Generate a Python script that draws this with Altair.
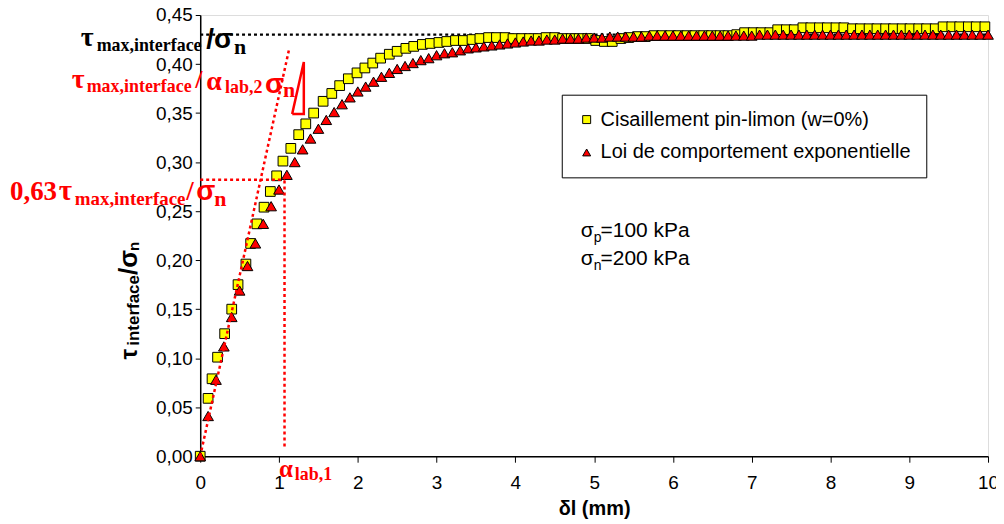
import altair as alt
import pandas as pd

# ---------------- data ----------------
series_names = ["Cisaillement pin-limon (w=0%)", "Loi de comportement exponentielle"]

sq_x = [0.00, 0.10, 0.15, 0.22, 0.31, 0.40, 0.48, 0.58, 0.64, 0.72, 0.81, 0.89, 0.97, 1.05, 1.15,
        1.25, 1.34, 1.44, 1.56, 1.67, 1.77, 1.88, 1.99, 2.09, 2.19, 2.29, 2.40, 2.50, 2.61,
        2.71, 2.82, 2.92, 3.03, 3.13, 3.24, 3.34, 3.45, 3.55, 3.66,
        3.76, 3.87, 3.97, 4.08, 4.18, 4.29, 4.39, 4.50, 4.60, 4.71,
        4.81, 4.92, 5.02, 5.13, 5.23, 5.34, 5.44, 5.55, 5.65, 5.76,
        5.86, 5.97, 6.07, 6.18, 6.28, 6.39, 6.49, 6.60, 6.70, 6.81,
        6.91, 7.02, 7.12, 7.23, 7.33, 7.44, 7.54, 7.65, 7.75, 7.86,
        7.96, 8.07, 8.17, 8.28, 8.38, 8.49, 8.59, 8.70, 8.80, 8.91,
        9.01, 9.12, 9.22, 9.33, 9.43, 9.54, 9.64, 9.75, 9.85, 9.96]
sq_y = [0.000, 0.059, 0.079, 0.101, 0.125, 0.150, 0.175, 0.196, 0.217, 0.237, 0.254, 0.270, 0.286, 0.301, 0.314,
        0.328, 0.339, 0.350, 0.362, 0.370, 0.378, 0.385, 0.391, 0.396, 0.401, 0.406, 0.410, 0.413, 0.416,
        0.418, 0.420, 0.421, 0.422, 0.423, 0.424, 0.424, 0.425, 0.426, 0.427,
        0.427, 0.427, 0.426, 0.426, 0.426, 0.426, 0.427, 0.427, 0.426, 0.426,
        0.426, 0.426, 0.424, 0.423, 0.423, 0.426, 0.427, 0.428, 0.428, 0.429,
        0.429, 0.429, 0.429, 0.429, 0.429, 0.429, 0.429, 0.429, 0.429, 0.430,
        0.432, 0.432, 0.432, 0.432, 0.435, 0.435, 0.435, 0.437, 0.437, 0.437,
        0.437, 0.437, 0.437, 0.436, 0.436, 0.436, 0.436, 0.436, 0.436, 0.436,
        0.436, 0.436, 0.436, 0.436, 0.438, 0.438, 0.438, 0.438, 0.438, 0.438]

tri_x = [0.0, 0.1, 0.2, 0.3, 0.4, 0.5, 0.6, 0.7, 0.8, 0.9,
         1.0, 1.1, 1.2, 1.3, 1.4, 1.5, 1.6, 1.7, 1.8, 1.9,
         2.0, 2.1, 2.2, 2.3, 2.4, 2.5, 2.6, 2.7, 2.8, 2.9,
         3.0, 3.1, 3.2, 3.3, 3.4, 3.5, 3.6, 3.7, 3.8, 3.9,
         4.0, 4.1, 4.2, 4.3, 4.4, 4.5, 4.6, 4.7, 4.8, 4.9,
         5.0, 5.1, 5.2, 5.3, 5.4, 5.5, 5.6, 5.7, 5.8, 5.9,
         6.0, 6.1, 6.2, 6.3, 6.4, 6.5, 6.6, 6.7, 6.8, 6.9,
         7.0, 7.1, 7.2, 7.3, 7.4, 7.5, 7.6, 7.7, 7.8, 7.9,
         8.0, 8.1, 8.2, 8.3, 8.4, 8.5, 8.6, 8.7, 8.8, 8.9,
         9.0, 9.1, 9.2, 9.3, 9.4, 9.5, 9.6, 9.7, 9.8, 9.9, 10.0]
tri_y = [0.000, 0.041, 0.078, 0.112, 0.142, 0.169, 0.194, 0.217, 0.237, 0.255,
         0.272, 0.287, 0.300, 0.313, 0.324, 0.334, 0.343, 0.351, 0.359, 0.366,
         0.372, 0.377, 0.382, 0.387, 0.391, 0.395, 0.398, 0.401, 0.404, 0.406,
         0.409, 0.411, 0.412, 0.414, 0.416, 0.417, 0.418, 0.419, 0.420, 0.421,
         0.422, 0.423, 0.424, 0.424, 0.425, 0.425, 0.426, 0.426, 0.426, 0.427,
         0.427, 0.427, 0.428, 0.428, 0.428, 0.428, 0.428, 0.429, 0.429, 0.429,
         0.429, 0.429, 0.429, 0.429, 0.429, 0.429, 0.429, 0.429, 0.429, 0.429,
         0.429, 0.430, 0.430, 0.430, 0.430, 0.430, 0.430, 0.430, 0.430, 0.430,
         0.430, 0.430, 0.430, 0.430, 0.430, 0.430, 0.430, 0.430, 0.430, 0.430,
         0.430, 0.430, 0.430, 0.430, 0.430, 0.430, 0.430, 0.430, 0.430, 0.430, 0.430]

x_ticks = [0, 1, 2, 3, 4, 5, 6, 7, 8, 9, 10]
y_ticks = [0.0, 0.05, 0.10, 0.15, 0.20, 0.25, 0.30, 0.35, 0.40, 0.45]

# annotation geometry (data units)
tau_max = 0.43
tau_max_x = [0, 10]
tangent_x = [0.0, 1.125]
tangent_y = [0.0, 0.414]
level63_x = [0.0, 1.07]
level63_y = 0.282
alpha1_x = 1.07
alpha1_y = [0.01, 0.282]
slope_x = [1.167, 1.315, 1.315, 1.167]
slope_y = [0.349, 0.349, 0.402, 0.349]

# ---------------- chart ----------------
SANS = "Liberation Sans"
SERIF = "Liberation Serif"
red = "#FF0000"

xs = alt.Scale(domain=[0, 10], nice=False)
ys = alt.Scale(domain=[0, 0.45], nice=False)

x_axis = alt.Axis(values=x_ticks, format="d", grid=False, tickSize=6, labelPadding=11,
                  labelFlush=False, labelOverlap=False,
                  labelFont=SANS, labelFontSize=19, labelColor="black",
                  domainColor="black", domainWidth=1.5, tickColor="black",
                  title="δl (mm)", titleFont=SANS, titleFontSize=20, titleFontWeight="bold",
                  titleColor="black", titleY=59, titleBaseline="alphabetic")
y_axis = alt.Axis(values=y_ticks, grid=False, tickSize=5, labelPadding=3,
                  labelFlush=False, labelOverlap=False,
                  labelExpr="replace(format(datum.value, '.2f'), '.', ',')",
                  labelFont=SANS, labelFontSize=19, labelColor="black",
                  domainColor="black", domainWidth=1.5, tickColor="black", title=None)

legend = alt.Legend(orient="none", legendX=363, legendY=80, title=None,
                    strokeColor="black", fillColor="white", padding=15,
                    labelFont=SANS, labelFontSize=20, labelColor="black",
                    labelLimit=500, labelOffset=4, symbolSize=64,
                    symbolStrokeColor="black", symbolStrokeWidth=1, rowPadding=13)

shape_scale = alt.Scale(domain=series_names, range=["square", "triangle-up"])
fill_scale = alt.Scale(domain=series_names, range=["#FFFF00", "#FF0000"])
stroke_scale = alt.Scale(domain=series_names, range=["black", "black"])

base_line = alt.Chart(pd.DataFrame({"x": tau_max_x, "y": [tau_max, tau_max]})).mark_line(
    color="black", strokeDash=[3, 3], strokeWidth=2.5
).encode(x=alt.X("x:Q", scale=xs, axis=x_axis), y=alt.Y("y:Q", scale=ys, axis=y_axis))


def series_layer(xv, yv, name, size):
    df = pd.DataFrame({"x": xv, "y": yv, "serie": [name] * len(xv)})
    return alt.Chart(df).mark_point(filled=True, strokeWidth=1, opacity=1, strokeOpacity=1,
                                     size=size).encode(
        x=alt.X("x:Q", scale=xs),
        y=alt.Y("y:Q", scale=ys),
        shape=alt.Shape("serie:N", scale=shape_scale, legend=legend),
        fill=alt.Fill("serie:N", scale=fill_scale, legend=legend),
        stroke=alt.Stroke("serie:N", scale=stroke_scale, legend=legend),
    )


squares = series_layer(sq_x, sq_y, series_names[0], 95)
triangles = series_layer(tri_x, tri_y, series_names[1], 115)


def red_line(xv, yv, dash=True, order=False):
    df = pd.DataFrame({"x": xv, "y": yv, "i": list(range(len(xv)))})
    kw = dict(color=red, strokeWidth=2.5)
    if dash:
        kw["strokeDash"] = [3, 3]
    enc = dict(x=alt.X("x:Q", scale=xs), y=alt.Y("y:Q", scale=ys))
    if order:
        enc["order"] = alt.Order("i:Q")
    return alt.Chart(df).mark_line(**kw).encode(**enc)


tangent = red_line(tangent_x, tangent_y)
level63 = red_line(level63_x, [level63_y, level63_y])
alpha1 = red_line([alpha1_x, alpha1_x], alpha1_y)
slope = red_line(slope_x, slope_y, dash=False, order=True)


def txt(s, x, y, size, color="black", font=SERIF, weight="bold", angle=0):
    kw = dict(text=s, align="left", baseline="alphabetic", font=font, fontSize=size,
              fontWeight=weight, color=color)
    if angle:
        kw["angle"] = angle
    return alt.Chart(pd.DataFrame({"k": [0]})).mark_text(**kw).encode(
        x=alt.value(x), y=alt.value(y))


labels = [
    # black tau_max / sigma_n
    txt("τ", -120, 31, 28),
    txt("max,interface", -104, 36, 18),
    txt("/σ", 6, 33, 28, font=SANS),
    txt("n", 34, 39, 22),
    # red tau_max / alpha_lab,2 sigma_n
    txt("τ", -129, 73, 28, red),
    txt("max,interface", -114, 77, 18, red),
    txt("/", -5, 73, 26, red),
    txt("α", 6, 75, 28, red),
    txt("lab,2", 25, 78, 18, red),
    txt("σ", 65, 78, 28, red, font=SANS),
    txt("n", 83, 82, 22, red),
    # red 0,63 tau_max / sigma_n
    txt("0,63", -191, 186, 27, red),
    txt("τ", -142, 186, 29, red),
    txt("max,interface", -126, 191, 19, red),
    txt("/", -14, 186, 27, red),
    txt("σ", -4, 186, 28, red, font=SANS),
    txt("n", 14, 192, 22, red),
    # alpha_lab,1
    txt("α", 79, 464, 25, red),
    txt("lab,1", 95, 467, 18, red),
    # sigma texts
    txt("σ", 382, 223, 21, font=SANS, weight="normal"),
    txt("p", 395, 228, 14, font=SANS, weight="normal"),
    txt("=100 kPa", 402, 223, 21, font=SANS, weight="normal"),
    txt("σ", 382, 251, 21, font=SANS, weight="normal"),
    txt("n", 395, 256, 14, font=SANS, weight="normal"),
    txt("=200 kPa", 402, 251, 21, font=SANS, weight="normal"),
    # y axis title (rotated)
    txt("τ", -63, 346, 24, font=SANS, angle=270),
    txt("interface", -61, 332, 17, font=SANS, angle=270),
    txt("/σ", -63, 261, 26, font=SANS, angle=270),
    txt("n", -61, 237, 15, font=SANS, angle=270),
]

chart = alt.layer(base_line, squares, triangles, tangent, level63, alpha1, slope, *labels).properties(
    width=791, height=443,
    autosize=alt.AutoSizeParams(type="none"),
    padding={"left": 193, "top": 6, "right": 8, "bottom": 66},
).configure_view(stroke="#a0a0a0", strokeWidth=1.5).configure(background="white")

chart.save("out.html", embed_options={"renderer": "svg", "actions": False})
